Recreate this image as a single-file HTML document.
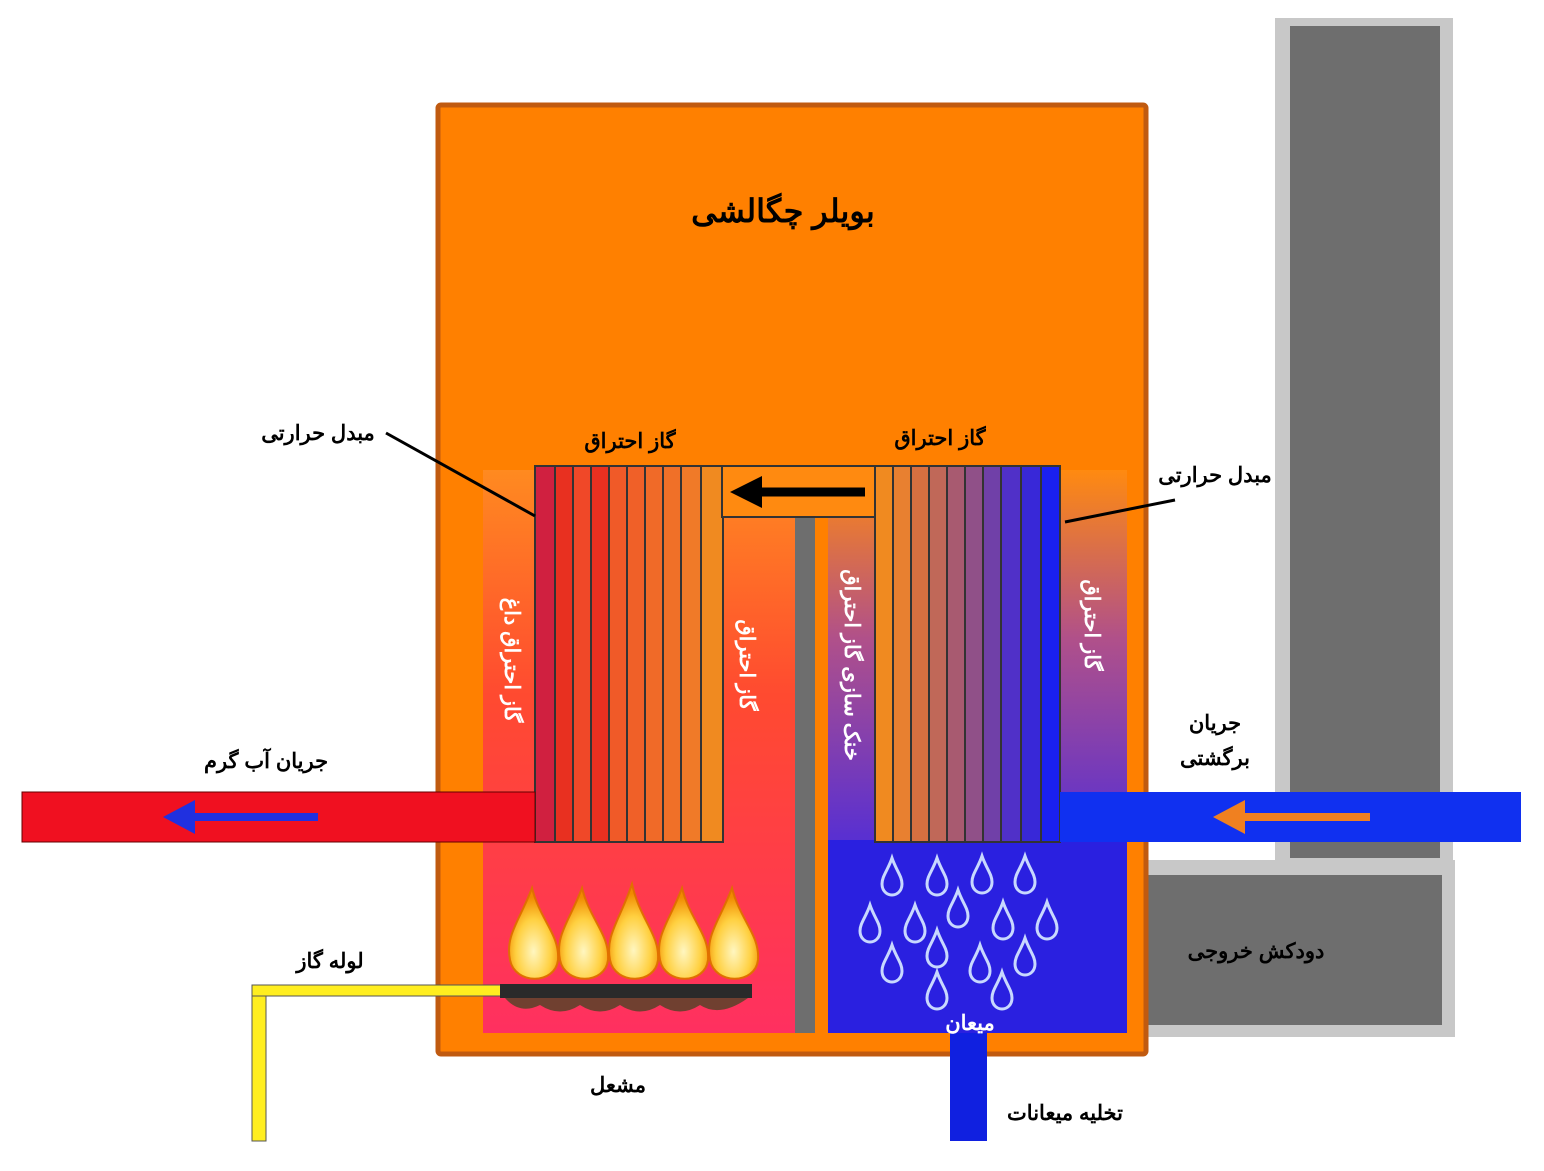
<!DOCTYPE html>
<html><head><meta charset="utf-8"><style>
html,body{margin:0;padding:0;background:#fff;}
text{font-family:"Liberation Sans","Noto Sans CJK SC",sans-serif;font-weight:bold;}
</style></head><body>
<svg width="1544" height="1166" viewBox="0 0 1544 1166" xmlns="http://www.w3.org/2000/svg">
<defs>
<linearGradient id="lh" x1="0" y1="0" x2="0" y2="1">
<stop offset="0" stop-color="#ff8a20"/><stop offset="0.4" stop-color="#ff4a30"/><stop offset="1" stop-color="#ff3060"/></linearGradient>
<linearGradient id="rh" x1="0" y1="0" x2="0" y2="1">
<stop offset="0" stop-color="#ff8a10"/><stop offset="0.3" stop-color="#b0508a"/><stop offset="0.65" stop-color="#5a30d0"/><stop offset="1" stop-color="#2a20e0"/></linearGradient>
<radialGradient id="fl" cx="0.5" cy="0.7" r="0.6">
<stop offset="0" stop-color="#fff6c0"/><stop offset="0.6" stop-color="#ffd040"/><stop offset="1" stop-color="#f08a00"/></radialGradient>
</defs>
<!-- chimney -->
<rect x="1275" y="18" width="178" height="852" fill="#c8c8c8"/>
<rect x="1290" y="26" width="150" height="832" fill="#6e6e6e"/>
<rect x="1127" y="860" width="328" height="177" fill="#c8c8c8"/>
<rect x="1130" y="875" width="312" height="150" fill="#6e6e6e"/>
<!-- boiler -->
<rect x="438" y="105" width="708" height="949" fill="#ff8000" stroke="#c05a10" stroke-width="5" rx="3"/>
<rect x="483" y="470" width="312" height="563" fill="url(#lh)"/>
<rect x="828" y="470" width="299" height="563" fill="url(#rh)"/>
<rect x="828" y="840" width="299" height="193" fill="#2a20e0"/>
<rect x="795" y="517" width="20" height="516" fill="#6e6e6e"/>
<!-- left exchanger -->
<rect x="535" y="466" width="188" height="376" fill="#ff5030" stroke="#333" stroke-width="2"/>
<g fill="#e83020" stroke="#333" stroke-width="2">
<rect x="535" y="466" width="20" height="376" fill="#d02040"/>
<rect x="555" y="466" width="18" height="376"/><rect x="573" y="466" width="18" height="376" fill="#f04828"/>
<rect x="591" y="466" width="18" height="376"/><rect x="609" y="466" width="18" height="376" fill="#f05a28"/>
<rect x="627" y="466" width="18" height="376" fill="#f06028"/><rect x="645" y="466" width="18" height="376" fill="#f06a28"/>
<rect x="663" y="466" width="18" height="376" fill="#f07028"/><rect x="681" y="466" width="20" height="376" fill="#f07a28"/>
<rect x="701" y="466" width="22" height="376" fill="#f08a20"/>
</g>
<!-- connector -->
<rect x="722" y="466" width="154" height="51" fill="#ff8a10" stroke="#333" stroke-width="2"/>
<line x1="865" y1="492" x2="760" y2="492" stroke="#000" stroke-width="9"/>
<polygon points="730,492 762,476 762,508" fill="#000"/>
<!-- right exchanger -->
<g stroke="#333" stroke-width="2">
<rect x="875" y="466" width="18" height="376" fill="#f08a20"/>
<rect x="893" y="466" width="18" height="376" fill="#e88030"/>
<rect x="911" y="466" width="18" height="376" fill="#d87040"/>
<rect x="929" y="466" width="18" height="376" fill="#c06858"/>
<rect x="947" y="466" width="18" height="376" fill="#a85a70"/>
<rect x="965" y="466" width="18" height="376" fill="#905088"/>
<rect x="983" y="466" width="18" height="376" fill="#7040a8"/>
<rect x="1001" y="466" width="20" height="376" fill="#5030c8"/>
<rect x="1021" y="466" width="20" height="376" fill="#3828d8"/>
<rect x="1041" y="466" width="19" height="376" fill="#1a20f0"/>
</g>
<!-- pipes -->
<rect x="22" y="792" width="513" height="50" fill="#f01020" stroke="#600" stroke-width="1"/>
<line x1="318" y1="817" x2="190" y2="817" stroke="#2030e0" stroke-width="8"/>
<polygon points="163,817 195,800 195,834" fill="#2030e0"/>
<rect x="1060" y="792" width="461" height="50" fill="#1030f0"/>
<line x1="1370" y1="817" x2="1240" y2="817" stroke="#f08020" stroke-width="8"/>
<polygon points="1213,817 1245,800 1245,834" fill="#f08020"/>
<rect x="950" y="1033" width="37" height="108" fill="#1020e0"/>
<!-- gas pipe -->
<rect x="252" y="985" width="14" height="156" fill="#ffee20" stroke="#555" stroke-width="1"/>
<rect x="252" y="985" width="250" height="11" fill="#ffee20" stroke="#555" stroke-width="1"/>
<rect x="500" y="984" width="252" height="14" fill="#2a2a2a"/>
<path d="M505 998 Q520 1015 540 1005 Q560 1018 580 1005 Q600 1018 620 1005 Q640 1018 660 1005 Q680 1018 700 1005 Q720 1018 748 998Z" fill="#704030"/>
<!-- flames -->
<g fill="url(#fl)" stroke="#e07000" stroke-width="2">
<path d="M532 888 C520 920 505 935 510 960 C515 985 555 985 558 960 C560 935 540 920 532 888Z"/>
<path d="M582 888 C570 920 555 935 560 960 C565 985 605 985 608 960 C610 935 590 920 582 888Z"/>
<path d="M632 884 C620 920 605 935 610 960 C615 985 655 985 658 960 C660 935 640 920 632 884Z"/>
<path d="M682 888 C670 920 655 935 660 960 C665 985 705 985 708 960 C710 935 690 920 682 888Z"/>
<path d="M732 888 C720 920 705 935 710 960 C715 985 755 985 758 960 C760 935 740 920 732 888Z"/>
</g>
<!-- drops -->
<g fill="none" stroke="#c8d8ff" stroke-width="3">
<path d="M0 -20 C-4 -8 -10 -2 -10 6 C-10 13 -5 17 0 17 C5 17 10 13 10 6 C10 -2 4 -8 0 -20Z" transform="translate(892,878)"/>
<path d="M0 -20 C-4 -8 -10 -2 -10 6 C-10 13 -5 17 0 17 C5 17 10 13 10 6 C10 -2 4 -8 0 -20Z" transform="translate(937,878)"/>
<path d="M0 -20 C-4 -8 -10 -2 -10 6 C-10 13 -5 17 0 17 C5 17 10 13 10 6 C10 -2 4 -8 0 -20Z" transform="translate(982,876)"/>
<path d="M0 -20 C-4 -8 -10 -2 -10 6 C-10 13 -5 17 0 17 C5 17 10 13 10 6 C10 -2 4 -8 0 -20Z" transform="translate(1025,876)"/>
<path d="M0 -20 C-4 -8 -10 -2 -10 6 C-10 13 -5 17 0 17 C5 17 10 13 10 6 C10 -2 4 -8 0 -20Z" transform="translate(870,925)"/>
<path d="M0 -20 C-4 -8 -10 -2 -10 6 C-10 13 -5 17 0 17 C5 17 10 13 10 6 C10 -2 4 -8 0 -20Z" transform="translate(915,925)"/>
<path d="M0 -20 C-4 -8 -10 -2 -10 6 C-10 13 -5 17 0 17 C5 17 10 13 10 6 C10 -2 4 -8 0 -20Z" transform="translate(958,910)"/>
<path d="M0 -20 C-4 -8 -10 -2 -10 6 C-10 13 -5 17 0 17 C5 17 10 13 10 6 C10 -2 4 -8 0 -20Z" transform="translate(1003,922)"/>
<path d="M0 -20 C-4 -8 -10 -2 -10 6 C-10 13 -5 17 0 17 C5 17 10 13 10 6 C10 -2 4 -8 0 -20Z" transform="translate(1047,922)"/>
<path d="M0 -20 C-4 -8 -10 -2 -10 6 C-10 13 -5 17 0 17 C5 17 10 13 10 6 C10 -2 4 -8 0 -20Z" transform="translate(892,965)"/>
<path d="M0 -20 C-4 -8 -10 -2 -10 6 C-10 13 -5 17 0 17 C5 17 10 13 10 6 C10 -2 4 -8 0 -20Z" transform="translate(937,950)"/>
<path d="M0 -20 C-4 -8 -10 -2 -10 6 C-10 13 -5 17 0 17 C5 17 10 13 10 6 C10 -2 4 -8 0 -20Z" transform="translate(980,965)"/>
<path d="M0 -20 C-4 -8 -10 -2 -10 6 C-10 13 -5 17 0 17 C5 17 10 13 10 6 C10 -2 4 -8 0 -20Z" transform="translate(1025,958)"/>
<path d="M0 -20 C-4 -8 -10 -2 -10 6 C-10 13 -5 17 0 17 C5 17 10 13 10 6 C10 -2 4 -8 0 -20Z" transform="translate(937,992)"/>
<path d="M0 -20 C-4 -8 -10 -2 -10 6 C-10 13 -5 17 0 17 C5 17 10 13 10 6 C10 -2 4 -8 0 -20Z" transform="translate(1002,992)"/>
</g>
<!-- leader lines -->
<line x1="386" y1="433" x2="535" y2="516" stroke="#000" stroke-width="3"/>
<line x1="1175" y1="500" x2="1065" y2="522" stroke="#000" stroke-width="3"/>
<!-- labels -->
<g fill="#000" text-anchor="middle">
<text x="783" y="222" font-size="32">بویلر چگالشی</text>
<text x="318" y="440" font-size="21">مبدل حرارتی</text>
<text x="630" y="448" font-size="21">گاز احتراق</text>
<text x="940" y="445" font-size="21">گاز احتراق</text>
<text x="1215" y="482" font-size="21">مبدل حرارتی</text>
<text x="266" y="768" font-size="21">جریان آب گرم</text>
<text x="1215" y="730" font-size="21">جریان</text>
<text x="1215" y="765" font-size="21">برگشتی</text>
<text x="330" y="968" font-size="21">لوله گاز</text>
<text x="618" y="1092" font-size="21">مشعل</text>
<text x="1065" y="1120" font-size="21">تخلیه میعانات</text>
<text x="1256" y="958" font-size="21">دودکش خروجی</text>
</g>
<g fill="#fff" text-anchor="middle" font-size="21">
<text x="970" y="1030">میعان</text>
<text transform="translate(505,660) rotate(90)">گاز احتراق داغ</text>
<text transform="translate(740,665) rotate(90)">گاز احتراق</text>
<text transform="translate(845,665) rotate(90)">خنک سازی گاز احتراق</text>
<text transform="translate(1085,625) rotate(90)">گاز احتراق</text>
</g>
</svg>
</body></html>
